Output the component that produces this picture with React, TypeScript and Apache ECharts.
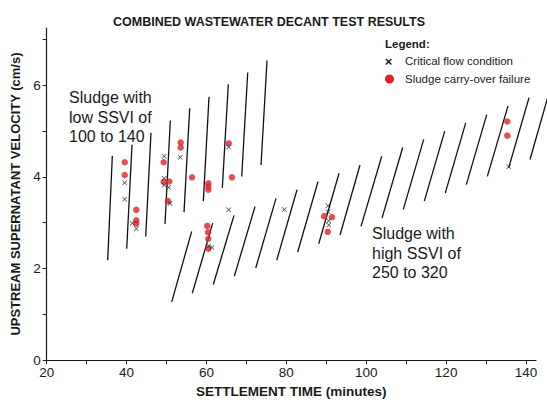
import React, { useEffect, useRef } from "react";
import * as echarts from "echarts";

// Settlement time (min) / velocity (cm/s) segments: [xTop, yTop, xBottom, yBottom]
const lowSsviLines: number[][] = [
  [36.43, 4.46, 35.27, 2.18],
  [41.36, 4.7, 40.03, 2.43],
  [46.11, 4.96, 44.79, 2.7],
  [50.95, 5.23, 49.62, 2.97],
  [55.8, 5.5, 54.38, 3.23],
  [60.64, 5.75, 59.21, 3.47],
  [65.47, 6.02, 63.97, 3.76],
  [70.33, 6.28, 68.82, 4.01],
  [75.16, 6.54, 73.66, 4.26],
];

const highSsviLines: number[][] = [
  [56.3, 2.81, 51.3, 1.27],
  [61.56, 2.99, 56.45, 1.46],
  [66.9, 3.16, 61.71, 1.65],
  [72.15, 3.35, 66.97, 1.83],
  [77.41, 3.53, 72.33, 2.01],
  [82.67, 3.72, 77.59, 2.18],
  [87.93, 3.9, 82.84, 2.36],
  [93.19, 4.08, 88.1, 2.54],
  [98.44, 4.26, 93.44, 2.73],
  [103.88, 4.45, 98.69, 2.92],
  [109.13, 4.64, 103.95, 3.1],
  [114.39, 4.82, 109.28, 3.29],
  [119.65, 5.0, 114.54, 3.47],
  [124.91, 5.18, 119.8, 3.65],
  [130.17, 5.36, 125.06, 3.83],
  [135.5, 5.55, 130.32, 4.01],
  [140.76, 5.73, 135.67, 4.2],
  [146.0, 5.91, 141.0, 4.38],
];

const criticalFlow: number[][] = [
  [39.53, 3.87], [39.53, 3.51], [41.43, 2.99], [42.43, 2.87],
  [49.44, 4.45], [49.44, 3.97], [49.44, 3.82], [50.55, 3.77], [50.87, 3.42],
  [53.45, 4.43], [65.57, 4.65], [65.57, 3.28], [60.56, 2.49], [61.39, 2.46],
  [79.49, 3.29], [90.43, 3.37], [90.43, 3.24], [90.61, 3.04], [90.61, 2.95],
  [135.67, 4.22],
];

const carryOverFailure: number[][] = [
  [39.53, 4.32], [39.53, 4.04], [42.43, 3.28], [42.43, 3.05], [42.43, 2.98],
  [49.29, 4.32], [49.29, 3.89], [50.7, 3.9], [50.37, 3.47],
  [53.55, 4.75], [53.55, 4.64], [56.38, 3.99],
  [60.46, 3.86], [60.46, 3.79], [60.46, 3.72],
  [65.57, 4.73], [66.39, 3.99],
  [60.21, 2.93], [60.39, 2.79], [60.46, 2.65], [60.46, 2.43],
  [89.43, 3.14], [91.43, 3.12], [90.36, 2.8],
  [135.32, 5.21], [135.32, 4.9],
];

const xTicks = [20, 30, 40, 50, 60, 70, 80, 90, 100, 110, 120, 130, 140];
const xLabels = [20, 40, 60, 80, 100, 120, 140];
const yTicks = [0, 1, 2, 3, 4, 5, 6, 7];
const yLabels = [0, 2, 4, 6];

const FONT = "'Liberation Sans', Arial, Helvetica, sans-serif";
const RED = "#e0202a";
const INK = "#1a1a1a";
const X_PATH = "path://M1,0L5,4L9,0L10,1L6,5L10,9L9,10L5,6L1,10L0,9L4,5L0,1Z";

export default function App() {
  const ref = useRef<HTMLDivElement>(null);
  useEffect(() => {
    if (!ref.current) return;
    const chart = echarts.init(ref.current, null, { renderer: "svg" });
    const segs = [...lowSsviLines, ...highSsviLines].map((s) => ({
      coords: [
        [s[0], s[1]],
        [s[2], s[3]],
      ],
    }));
    chart.setOption({
      animation: false,
      backgroundColor: "#ffffff",
      textStyle: { fontFamily: FONT },
      title: {
        text: "COMBINED WASTEWATER DECANT TEST RESULTS",
        left: 108,
        top: 10,
        textStyle: { fontFamily: FONT, fontSize: 12.5, fontWeight: "bold", color: INK },
      },
      grid: { left: 46.7, right: 11, top: 28, bottom: 38 },
      xAxis: {
        type: "value",
        min: 20,
        max: 142.5,
        interval: 10,
        name: "SETTLEMENT TIME (minutes)",
        nameLocation: "middle",
        nameGap: 23,
        nameTextStyle: { fontFamily: FONT, fontSize: 13.5, fontWeight: "bold", color: INK },
        axisLine: { lineStyle: { color: INK, width: 1.2 } },
        axisTick: { show: true, length: 4, customValues: xTicks, lineStyle: { color: INK } },
        axisLabel: { customValues: xLabels, fontFamily: FONT, fontSize: 13.5, color: INK, margin: 5 },
        splitLine: { show: false },
      },
      yAxis: {
        type: "value",
        min: 0,
        max: 7.25,
        interval: 1,
        name: "UPSTREAM SUPERNATANT VELOCITY (cm/s)",
        nameLocation: "middle",
        nameGap: 21,
        nameTextStyle: { fontFamily: FONT, fontSize: 13, fontWeight: "bold", color: INK },
        axisLine: { show: true, lineStyle: { color: INK, width: 1.2 } },
        axisTick: { show: true, length: 4, customValues: yTicks, lineStyle: { color: INK } },
        axisLabel: { customValues: yLabels, fontFamily: FONT, fontSize: 13.5, color: INK, margin: 6 },
        splitLine: { show: false },
      },
      series: [
        {
          type: "lines",
          coordinateSystem: "cartesian2d",
          polyline: false,
          clip: false,
          silent: true,
          z: 1,
          lineStyle: { color: "#111", width: 1.3, opacity: 1, type: "solid" },
          data: segs,
        },
        {
          type: "scatter",
          name: "Sludge carry-over failure",
          symbol: "circle",
          symbolSize: 6.5,
          z: 3,
          itemStyle: { color: RED },
          data: carryOverFailure,
        },
        {
          type: "scatter",
          name: "Critical flow condition",
          symbol: X_PATH,
          symbolSize: 5,
          z: 4,
          itemStyle: { color: INK },
          data: criticalFlow,
        },
      ],
      graphic: [
        {
          type: "text",
          left: 69,
          top: 88,
          style: {
            text: "Sludge with\nlow SSVI of\n100 to 140",
            font: `16px ${FONT}`,
            lineHeight: 19.5,
            fill: INK,
          },
        },
        {
          type: "text",
          left: 372,
          top: 224,
          style: {
            text: "Sludge with\nhigh SSVI of\n250 to 320",
            font: `16px ${FONT}`,
            lineHeight: 19.5,
            fill: INK,
          },
        },
        {
          type: "text",
          x: 385,
          y: 43.5,
          style: { text: "Legend:", font: `bold 11.5px ${FONT}`, fill: INK, verticalAlign: "middle" },
        },
        {
          type: "text",
          x: 388.5,
          y: 61,
          style: { text: "×", font: `bold 13px ${FONT}`, fill: INK, align: "center", verticalAlign: "middle" },
        },
        {
          type: "text",
          x: 405,
          y: 61,
          style: { text: "Critical flow condition", font: `11.5px ${FONT}`, fill: INK, verticalAlign: "middle" },
        },
        {
          type: "circle",
          shape: { cx: 389.5, cy: 79, r: 4.5 },
          style: { fill: RED },
        },
        {
          type: "text",
          x: 405,
          y: 79,
          style: { text: "Sludge carry-over failure", font: `11.5px ${FONT}`, fill: INK, verticalAlign: "middle" },
        },
      ],
    });
    return () => chart.dispose();
  }, []);
  return (
    <div
      ref={ref}
      style={{ position: "absolute", left: 0, top: 0, width: 547, height: 403, background: "#fff" }}
    />
  );
}
